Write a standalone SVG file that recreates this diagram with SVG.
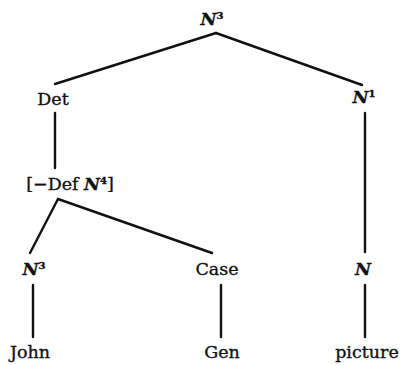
<svg xmlns="http://www.w3.org/2000/svg" width="402" height="365" viewBox="0 0 402 365">
<style>
text{font-family:"DejaVu Serif","Liberation Serif",serif;font-size:17.5px;fill:#111;stroke:#111;stroke-width:0.35;text-anchor:middle}
.i{font-style:italic;font-weight:bold}
.s{font-size:10px;font-style:normal;font-weight:bold}
#edges line{stroke:#111;stroke-width:2.4;stroke-linecap:round}
</style>
<rect width="402" height="365" fill="#fff"/>
<g id="edges">
<line x1="216" y1="33" x2="55" y2="84"/>
<line x1="216" y1="33" x2="362" y2="85"/>
<line x1="55" y1="113" x2="55" y2="168"/>
<line x1="365" y1="113" x2="365" y2="252"/>
<line x1="58" y1="199" x2="30" y2="253"/>
<line x1="58" y1="199" x2="212" y2="253"/>
<line x1="33" y1="285" x2="33" y2="337"/>
<line x1="221" y1="285" x2="221" y2="337"/>
<line x1="365" y1="285" x2="365" y2="337"/>
</g>
<g id="n-top"><text x="212" y="25"><tspan class="i">N</tspan><tspan class="s" dy="-6">3</tspan></text></g>
<g id="n-det"><text x="53" y="105">Det</text></g>
<g id="n-n1"><text x="364" y="103"><tspan class="i">N</tspan><tspan class="s" dy="-6">1</tspan></text></g>
<g id="n-def"><text x="70" y="190">[−Def <tspan class="i">N</tspan><tspan class="s" dy="-6">4</tspan><tspan dy="6">]</tspan></text></g>
<g id="n-n3"><text x="34" y="275"><tspan class="i">N</tspan><tspan class="s" dy="-6">3</tspan></text></g>
<g id="n-case"><text x="217" y="275">Case</text></g>
<g id="n-n"><text x="363" y="275" class="i">N</text></g>
<g id="n-john"><text x="30" y="358">John</text></g>
<g id="n-gen"><text x="222" y="358">Gen</text></g>
<g id="n-picture"><text x="367" y="358">picture</text></g>
</svg>
